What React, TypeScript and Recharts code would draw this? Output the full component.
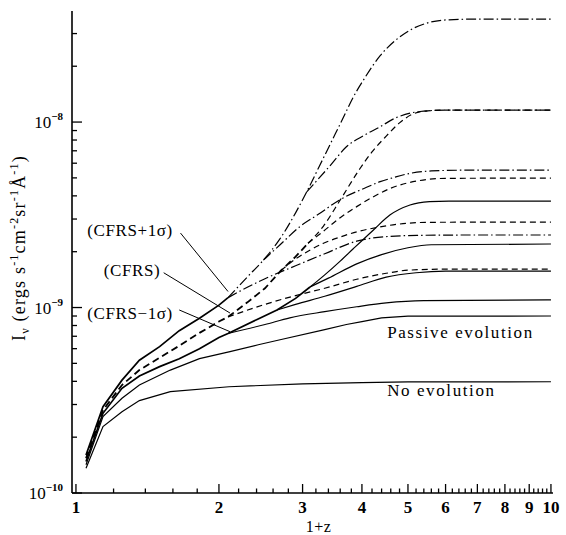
import { LineChart, Line, XAxis, YAxis, ReferenceDot, ReferenceLine } from 'recharts';

const SERIF = '"Liberation Serif", "DejaVu Serif", serif';

// axis ranges (1+z, erg s^-1 cm^-2 sr^-1 A^-1)
const X_DOMAIN = [0.981, 10.1];
const Y_DOMAIN = [1e-10, 3.97e-8];
const X_LABELS = [1, 2, 3, 4, 5, 6, 7, 8, 9, 10];

const X_TICKS: number[] = [];
for (let i = 10; i <= 100; i += 2) X_TICKS.push(i / 10);
const Y_TICKS: number[] = [];
for (const e of [-10, -9, -8]) for (let m = 1; m <= 9; m++) {
  const v = m * Math.pow(10, e);
  if (v <= Y_DOMAIN[1]) Y_TICKS.push(v);
}

// CFRS+1sigma
const Z_HI_TRUNK = [1.05, 1.14, 1.25, 1.36, 1.5, 1.65, 1.82, 2.0, 2.09];
const HI_TRUNK = [1.6e-10, 2.92e-10, 4.06e-10, 5.2e-10, 6.15e-10, 7.5e-10, 8.75e-10, 1.03e-9, 1.13e-9];
const Z_HI_A = [2.09, 2.3, 2.48, 2.69, 2.9, 3.06, 3.25, 3.43, 3.64, 3.84, 4.05, 4.37, 4.7, 5.13, 5.56, 6.1, 7, 10];
const HI_A = [1.13e-9, 1.47e-9, 1.8e-9, 2.35e-9, 3.24e-9, 4.2e-9, 5.74e-9, 7.6e-9, 1.035e-8, 1.37e-8, 1.72e-8, 2.28e-8, 2.75e-8, 3.2e-8, 3.45e-8, 3.56e-8, 3.59e-8, 3.59e-8];
const Z_HI_B = [3.06, 3.16, 3.43, 3.71, 4.05, 4.37, 4.7, 5.3, 6, 10];
const HI_B = [4.2e-9, 4.6e-9, 5.83e-9, 7.36e-9, 8.5e-9, 9.44e-9, 1.05e-8, 1.14e-8, 1.16e-8, 1.16e-8];
const Z_HI_C = [2.48, 2.69, 2.96, 3.25, 3.6, 4.05, 4.37, 4.7, 5.05, 5.6, 6.5, 10];
const HI_C = [1.8e-9, 2.18e-9, 2.73e-9, 3.2e-9, 3.82e-9, 4.4e-9, 4.77e-9, 5.05e-9, 5.29e-9, 5.45e-9, 5.5e-9, 5.51e-9];
const Z_HI_D = [2.09, 2.3, 2.5, 2.9, 3.34, 3.9, 4.58, 5.3, 6.5, 10];
const HI_D = [1.13e-9, 1.29e-9, 1.43e-9, 1.68e-9, 1.95e-9, 2.28e-9, 2.42e-9, 2.45e-9, 2.46e-9, 2.46e-9];

// CFRS
const Z_CF_TRUNK = [1.05, 1.14, 1.25, 1.36, 1.5, 1.65, 1.82, 2.0, 2.09, 2.3, 2.5, 2.7, 2.9, 3.08];
const CF_TRUNK = [1.54e-10, 2.8e-10, 3.82e-10, 4.6e-10, 5.36e-10, 6.22e-10, 7.3e-10, 8.4e-10, 8.9e-10, 1.07e-9, 1.27e-9, 1.58e-9, 1.88e-9, 2.22e-9];
const Z_CF_A = [3.08, 3.32, 3.6, 3.96, 4.2, 4.5, 4.8, 5.1, 5.5, 6, 10];
const CF_A = [2.22e-9, 2.75e-9, 3.8e-9, 5.6e-9, 6.9e-9, 8.4e-9, 9.9e-9, 1.1e-8, 1.15e-8, 1.16e-8, 1.16e-8];
const Z_CF_B = [3.08, 3.3, 3.6, 3.9, 4.23, 4.6, 5.2, 6, 10];
const CF_B = [2.22e-9, 2.55e-9, 3.05e-9, 3.5e-9, 3.96e-9, 4.4e-9, 4.8e-9, 4.97e-9, 4.99e-9];
const Z_CF_C = [2.7, 2.9, 3.1, 3.32, 3.6, 3.9, 4.3, 4.8, 5.5, 10];
const CF_C = [1.58e-9, 1.83e-9, 2.03e-9, 2.22e-9, 2.4e-9, 2.56e-9, 2.7e-9, 2.82e-9, 2.88e-9, 2.89e-9];
const Z_CF_D = [2.09, 2.5, 2.9, 3.34, 3.9, 4.5, 5.0, 6, 10];
const CF_D = [8.9e-10, 1.04e-9, 1.16e-9, 1.27e-9, 1.42e-9, 1.53e-9, 1.59e-9, 1.61e-9, 1.61e-9];

// CFRS-1sigma
const Z_LO_TRUNK = [1.05, 1.14, 1.25, 1.36, 1.5, 1.65, 1.82, 2.0, 2.09, 2.4, 2.65, 2.9, 3.11];
const LO_TRUNK = [1.48e-10, 2.69e-10, 3.67e-10, 4.27e-10, 4.8e-10, 5.3e-10, 6.0e-10, 6.9e-10, 7.25e-10, 8.6e-10, 9.7e-10, 1.12e-9, 1.29e-9];
const Z_LO_A = [3.11, 3.34, 3.6, 3.84, 4.23, 4.58, 5.05, 5.55, 6.1, 10];
const LO_A = [1.29e-9, 1.5e-9, 1.78e-9, 2.08e-9, 2.62e-9, 3.15e-9, 3.57e-9, 3.72e-9, 3.75e-9, 3.75e-9];
const Z_LO_B = [3.11, 3.4, 3.9, 4.4, 5.0, 5.6, 10];
const LO_B = [1.29e-9, 1.44e-9, 1.72e-9, 1.93e-9, 2.1e-9, 2.18e-9, 2.2e-9];
const Z_LO_C = [2.65, 2.9, 3.34, 3.9, 4.5, 5.2, 6, 10];
const LO_C = [9.7e-10, 1.04e-9, 1.15e-9, 1.3e-9, 1.46e-9, 1.54e-9, 1.57e-9, 1.57e-9];
const Z_LO_D = [2.09, 2.5, 2.82, 3.34, 3.9, 4.5, 5.4, 10];
const LO_D = [7.25e-10, 8.1e-10, 8.8e-10, 9.5e-10, 1.01e-9, 1.06e-9, 1.09e-9, 1.1e-9];

const Z_PASSIVE = [1.05, 1.14, 1.25, 1.36, 1.58, 1.82, 2.11, 2.42, 2.69, 3.34, 3.71, 4.0, 4.4, 5.0, 10];
const PASSIVE = [1.42e-10, 2.58e-10, 3.24e-10, 3.82e-10, 4.6e-10, 5.3e-10, 5.78e-10, 6.3e-10, 6.7e-10, 7.6e-10, 8.1e-10, 8.4e-10, 8.8e-10, 8.98e-10, 9.0e-10];
const Z_NOEVO = [1.05, 1.14, 1.25, 1.36, 1.58, 2.1, 3.0, 4.0, 5.0, 10];
const NOEVO = [1.36e-10, 2.28e-10, 2.74e-10, 3.15e-10, 3.52e-10, 3.74e-10, 3.88e-10, 3.94e-10, 3.97e-10, 3.98e-10];

const pts = (zs: number[], vs: number[]) => zs.map((x, i) => ({ x, y: vs[i] }));

const DASH = '6 4';
const DASHDOT = '10 3 1.5 3';

const SERIES = [
  { id: 'hiT', data: pts(Z_HI_TRUNK, HI_TRUNK), dash: undefined, w: 1.7, curve: 'linear' },
  { id: 'hiA', data: pts(Z_HI_A, HI_A), dash: DASHDOT, w: 1.2, curve: 'monotone' },
  { id: 'hiB', data: pts(Z_HI_B, HI_B), dash: DASHDOT, w: 1.2, curve: 'monotone' },
  { id: 'hiC', data: pts(Z_HI_C, HI_C), dash: DASHDOT, w: 1.2, curve: 'monotone' },
  { id: 'hiD', data: pts(Z_HI_D, HI_D), dash: DASHDOT, w: 1.2, curve: 'monotone' },
  { id: 'cfT', data: pts(Z_CF_TRUNK, CF_TRUNK), dash: '7 4', w: 1.8, curve: 'linear' },
  { id: 'cfA', data: pts(Z_CF_A, CF_A), dash: DASH, w: 1.2, curve: 'monotone' },
  { id: 'cfB', data: pts(Z_CF_B, CF_B), dash: DASH, w: 1.2, curve: 'monotone' },
  { id: 'cfC', data: pts(Z_CF_C, CF_C), dash: DASH, w: 1.2, curve: 'monotone' },
  { id: 'cfD', data: pts(Z_CF_D, CF_D), dash: DASH, w: 1.2, curve: 'monotone' },
  { id: 'loT', data: pts(Z_LO_TRUNK, LO_TRUNK), dash: undefined, w: 1.7, curve: 'linear' },
  { id: 'loA', data: pts(Z_LO_A, LO_A), dash: undefined, w: 1.2, curve: 'monotone' },
  { id: 'loB', data: pts(Z_LO_B, LO_B), dash: undefined, w: 1.2, curve: 'monotone' },
  { id: 'loC', data: pts(Z_LO_C, LO_C), dash: undefined, w: 1.2, curve: 'monotone' },
  { id: 'loD', data: pts(Z_LO_D, LO_D), dash: undefined, w: 1.2, curve: 'monotone' },
  { id: 'passive', data: pts(Z_PASSIVE, PASSIVE), dash: undefined, w: 1.2, curve: 'linear' },
  { id: 'noevo', data: pts(Z_NOEVO, NOEVO), dash: undefined, w: 1.2, curve: 'linear' },
];

const isInt = (v: number) => Math.abs(v - Math.round(v)) < 1e-6;

function XTick(props: any) {
  const { x, y, payload, top } = props;
  const v = payload.value;
  const major = isInt(v);
  const len = major ? 9 : 4.5;
  return (
    <g>
      <line x1={x} x2={x} y1={y} y2={top ? y + len : y - len} stroke="#000" strokeWidth={1.3} />
      {!top && X_LABELS.includes(v) && (
        <text x={x} y={y + 20} textAnchor="middle" fontFamily={SERIF} fontWeight="bold" fontSize={17} fill="#000">
          {v}
        </text>
      )}
    </g>
  );
}

function YTick(props: any) {
  const { x, y, payload, right } = props;
  const v = payload.value;
  const e = Math.round(Math.log10(v));
  const major = Math.abs(v / Math.pow(10, e) - 1) < 1e-6;
  const len = major ? 10 : 5;
  return (
    <g>
      <line x1={x} x2={right ? x - len : x + len} y1={y} y2={y} stroke="#000" strokeWidth={1.3} />
      {!right && major && (
        <text x={x - 9} y={y + 6} textAnchor="end" fontFamily={SERIF} fontSize={17} fill="#000">
          10<tspan dy={-8} fontSize={11} fontWeight="bold">{'\u2212' + Math.abs(e)}</tspan>
        </text>
      )}
    </g>
  );
}

function XTitle(props: any) {
  const vb = props.viewBox || { x: 72, y: 493, width: 481 };
  return (
    <text x={vb.x + vb.width / 2 + 6} y={vb.y + 39} textAnchor="middle" fontFamily={SERIF} fontSize={16} letterSpacing={0.5} fill="#000">
      1+z
    </text>
  );
}

function YTitle(props: any) {
  const vb = props.viewBox || { y: 11, height: 482 };
  const cx = 25;
  const cy = vb.y + vb.height / 2 - 4;
  return (
    <text x={cx} y={cy} transform={`rotate(-90 ${cx} ${cy})`} textAnchor="middle" fontFamily={SERIF} fontSize={18} letterSpacing={1.2} fill="#000">
      I<tspan dy={4} fontSize={12}>ν</tspan>
      <tspan dy={-4}> (ergs s</tspan><tspan dy={-7} fontSize={12}>-1</tspan>
      <tspan dy={7}>cm</tspan><tspan dy={-7} fontSize={12}>-2</tspan>
      <tspan dy={7}>sr</tspan><tspan dy={-7} fontSize={12}>-1</tspan>
      <tspan dy={7}>Å</tspan><tspan dy={-7} fontSize={12}>-1</tspan>
      <tspan dy={7}>)</tspan>
    </text>
  );
}

function Note(props: any) {
  const { viewBox, text, anchor, spacing } = props;
  if (!viewBox) return null;
  return (
    <text x={viewBox.x} y={viewBox.y} dy={6} textAnchor={anchor} fontFamily={SERIF} fontSize={17} letterSpacing={spacing} fill="#000">
      {text}
    </text>
  );
}

const NOTES = [
  { x: 1.3, y: 2.62e-9, text: '(CFRS+1\u03c3)', anchor: 'middle', spacing: 0.6 },
  { x: 1.312, y: 1.59e-9, text: '(CFRS)', anchor: 'middle', spacing: 0.6 },
  { x: 1.3, y: 9.34e-10, text: '(CFRS\u22121\u03c3)', anchor: 'middle', spacing: 0.6 },
  { x: 4.52, y: 7.38e-10, text: 'Passive evolution', anchor: 'start', spacing: 1.6 },
  { x: 4.52, y: 3.59e-10, text: 'No evolution', anchor: 'start', spacing: 1.6 },
];

const POINTERS = [
  [{ x: 1.66, y: 2.52e-9 }, { x: 2.09, y: 1.22e-9 }],
  [{ x: 1.53, y: 1.54e-9 }, { x: 2.11, y: 9.34e-10 }],
  [{ x: 1.65, y: 9.7e-10 }, { x: 2.11, y: 7.41e-10 }],
];

export default function App() {
  return (
    <div style={{ position: 'fixed', left: 0, top: 0, background: '#fff' }}>
      <LineChart width={566} height={535} margin={{ top: 11, right: 13, bottom: 0, left: 0 }}>
        <XAxis
          xAxisId="b" dataKey="x" type="number" scale="log" domain={X_DOMAIN} allowDataOverflow
          ticks={X_TICKS} interval={0} tickSize={0} tickMargin={0} tickLine={false}
          tick={<XTick />} height={42} axisLine={{ stroke: '#000', strokeWidth: 1.6 }}
          label={<XTitle />}
        />
        <XAxis
          xAxisId="t" orientation="top" dataKey="x" type="number" scale="log" domain={X_DOMAIN} allowDataOverflow
          ticks={X_TICKS} interval={0} tickSize={0} tickMargin={0} tickLine={false}
          tick={<XTick top />} height={0} axisLine={{ stroke: '#000', strokeWidth: 1.6 }}
        />
        <YAxis
          yAxisId="l" type="number" scale="log" domain={Y_DOMAIN} allowDataOverflow
          ticks={Y_TICKS} interval={0} tickSize={0} tickMargin={0} tickLine={false}
          tick={<YTick />} width={72} axisLine={{ stroke: '#000', strokeWidth: 1.6 }}
          label={<YTitle />}
        />
        <YAxis
          yAxisId="r" orientation="right" type="number" scale="log" domain={Y_DOMAIN} allowDataOverflow
          ticks={Y_TICKS} interval={0} tickSize={0} tickMargin={0} tickLine={false}
          tick={<YTick right />} width={0} axisLine={{ stroke: '#000', strokeWidth: 1.6 }}
        />
        {SERIES.map(s => (
          <Line
            key={s.id} xAxisId="b" yAxisId="l" data={s.data} dataKey="y" type={s.curve as any}
            stroke="#000" strokeWidth={s.w} strokeDasharray={s.dash} dot={false}
            isAnimationActive={false} activeDot={false}
          />
        ))}
        {POINTERS.map((seg, i) => (
          <ReferenceLine key={i} xAxisId="b" yAxisId="l" segment={seg} stroke="#000" strokeWidth={1} ifOverflow="visible" />
        ))}
        {NOTES.map(n => (
          <ReferenceDot
            key={n.text} xAxisId="b" yAxisId="l" x={n.x} y={n.y} r={0} fill="none" stroke="none"
            label={<Note text={n.text} anchor={n.anchor} spacing={n.spacing} />}
          />
        ))}
      </LineChart>
    </div>
  );
}
